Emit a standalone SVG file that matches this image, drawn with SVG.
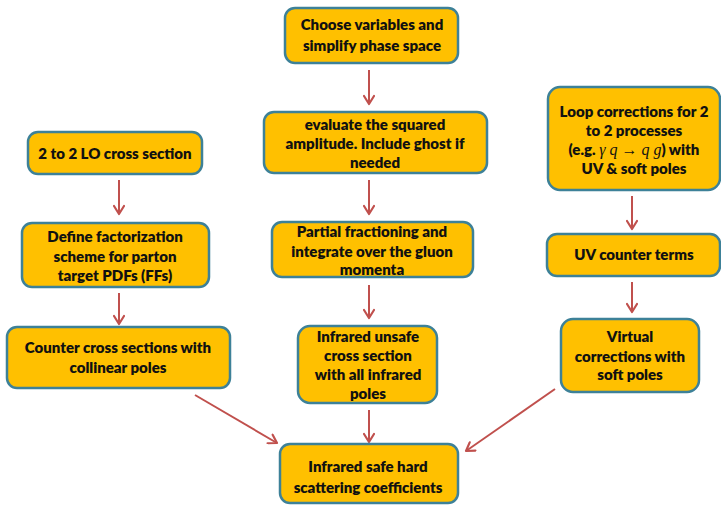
<svg xmlns="http://www.w3.org/2000/svg" width="721" height="505" viewBox="0 0 721 505">
<defs>
<marker id="ah" viewBox="0 0 12 12" refX="10" refY="6" markerWidth="12" markerHeight="12" markerUnits="userSpaceOnUse" orient="auto">
<path d="M2,1 L10,6 L2,11" fill="none" stroke="#C0504D" stroke-width="2.2" stroke-linecap="round" stroke-linejoin="round"/>
</marker>
</defs>
<style>
.box{fill:#FFC000;stroke:#3D8198;stroke-width:2.5}
.t{font-family:Lato,"Open Sans","Liberation Sans",sans-serif;font-weight:800;font-size:15px;fill:#111;text-anchor:middle}
.m{font-family:"Liberation Serif",serif;font-style:italic;font-weight:normal;font-size:16px}
.c{stroke:#C0504D;stroke-width:2;fill:none;marker-end:url(#ah)}
</style>
<rect width="721" height="505" fill="#fff"/>
<g id="connectors">
<line class="c" x1="369" y1="70" x2="369" y2="104"/>
<line class="c" x1="369" y1="180" x2="369" y2="214"/>
<line class="c" x1="369" y1="285" x2="369" y2="318"/>
<line class="c" x1="369" y1="410" x2="369" y2="442"/>
<line class="c" x1="119" y1="180" x2="119" y2="214"/>
<line class="c" x1="119" y1="293" x2="119" y2="324"/>
<line class="c" x1="632" y1="196" x2="632" y2="229"/>
<line class="c" x1="632" y1="282" x2="632" y2="312"/>
<line class="c" x1="195" y1="395" x2="277" y2="443"/>
<line class="c" x1="555" y1="389" x2="466" y2="451"/>
</g>
<g id="n1">
<rect class="box" x="285" y="8" width="173" height="55" rx="10"/>
<text class="t" x="372" y="30">Choose variables and</text>
<text class="t" x="372" y="51">simplify phase space</text>
</g>
<g id="n2">
<rect class="box" x="264" y="112" width="223" height="61" rx="10"/>
<text class="t" x="375" y="130">evaluate the squared</text>
<text class="t" x="375" y="149">amplitude. Include ghost if</text>
<text class="t" x="375" y="168">needed</text>
</g>
<g id="n3">
<rect class="box" x="272" y="222" width="201" height="55" rx="10"/>
<text class="t" x="372" y="237">Partial fractioning and</text>
<text class="t" x="372" y="257">integrate over the gluon</text>
<text class="t" x="372" y="275">momenta</text>
</g>
<g id="n4">
<rect class="box" x="298" y="326" width="139" height="77" rx="12"/>
<text class="t" x="368" y="342">Infrared unsafe</text>
<text class="t" x="368" y="361">cross section</text>
<text class="t" x="368" y="380">with all infrared</text>
<text class="t" x="368" y="399">poles</text>
</g>
<g id="n5">
<rect class="box" x="280" y="444" width="178" height="59" rx="10"/>
<text class="t" x="368" y="472">Infrared safe hard</text>
<text class="t" x="368" y="493">scattering coefficients</text>
</g>
<g id="l1">
<rect class="box" x="28" y="132" width="174" height="42" rx="10"/>
<text class="t" x="115" y="159">2 to 2 LO cross section</text>
</g>
<g id="l2">
<rect class="box" x="22" y="223" width="187" height="64" rx="10"/>
<text class="t" x="115" y="242">Define factorization</text>
<text class="t" x="115" y="262">scheme for parton</text>
<text class="t" x="115" y="281">target PDFs (FFs)</text>
</g>
<g id="l3">
<rect class="box" x="7" y="327" width="223" height="61" rx="10"/>
<text class="t" x="118" y="353">Counter cross sections with</text>
<text class="t" x="118" y="373">collinear poles</text>
</g>
<g id="r1">
<rect class="box" x="548" y="87" width="172" height="103" rx="12"/>
<text class="t" x="634" y="117">Loop corrections for 2</text>
<text class="t" x="634" y="136">to 2 processes</text>
<text class="t" x="634" y="155">(e.g. <tspan class="m">γ q </tspan><tspan class="m" font-style="normal">→</tspan><tspan class="m"> q g</tspan>) with</text>
<text class="t" x="634" y="174">UV &amp; soft poles</text>
</g>
<g id="r2">
<rect class="box" x="547" y="234" width="173" height="42" rx="10"/>
<text class="t" x="634" y="260">UV counter terms</text>
</g>
<g id="r3">
<rect class="box" x="561" y="319" width="138" height="73" rx="12"/>
<text class="t" x="630" y="342">Virtual</text>
<text class="t" x="630" y="362">corrections with</text>
<text class="t" x="630" y="380">soft poles</text>
</g>
</svg>
